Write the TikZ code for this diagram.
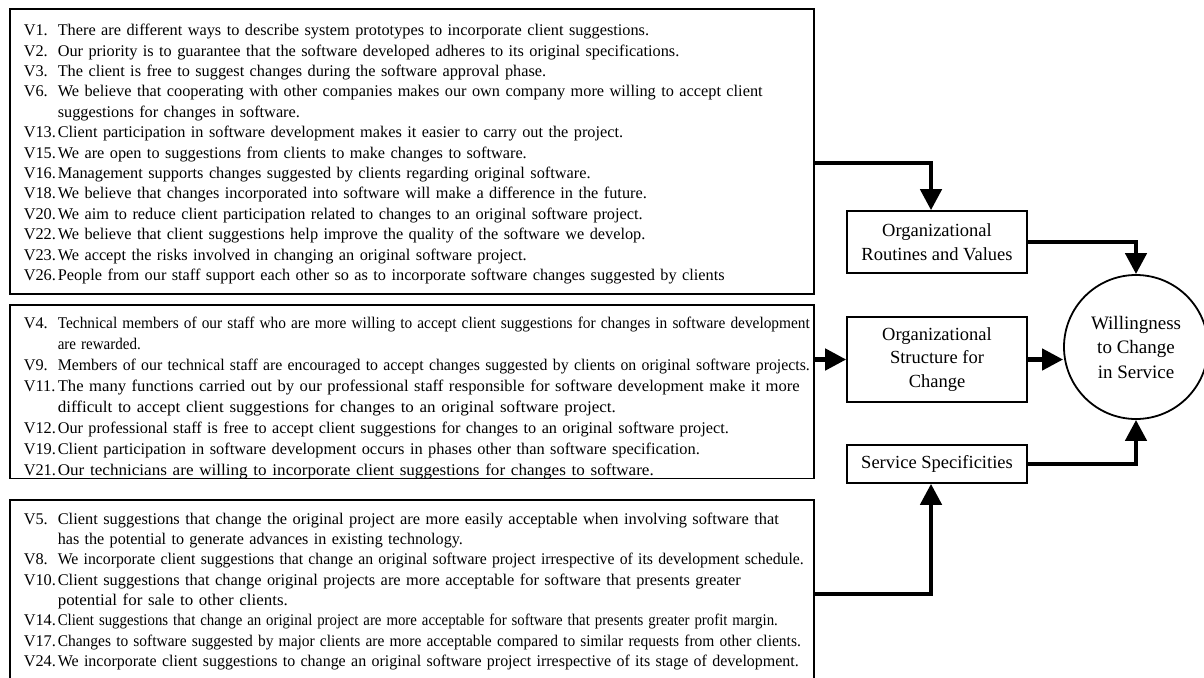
\documentclass[tikz,border=0pt]{standalone}
\usepackage{graphicx}
\usepackage{fontspec}
\setmainfont{Liberation Serif}
\usetikzlibrary{arrows.meta,calc,positioning}
\newlength\qlabw
\setlength\qlabw{34pt}
\newcommand\qlab[1]{\setbox0\hbox{#1}\ifdim\wd0<\qlabw\makebox[\qlabw][l]{#1}\else\box0\fi}
% squeeze a line sideways to a given width
\newcommand\qsqueeze[2]{\setbox2\hbox{#2}\pgfmathsetmacro\qratio{#1/\wd2}\scalebox{\qratio}[1]{\box2}}
\newcommand\qitem[3][]{\mbox{\qlab{#2}\ifx\relax#1\relax#3\else\qsqueeze{#1}{#3}\fi}}
\newcommand\qcont[2][]{\mbox{\hspace*{\qlabw}\ifx\relax#1\relax#2\else\qsqueeze{#1}{#2}\fi}}
\newcommand\qtop[1]{\rule{0pt}{#1}}
\tikzset{
	item box/.style={draw,line width=1.6pt,anchor=north west,align=left,
		inner xsep=14pt,inner ysep=0pt,text width=776pt,minimum width=804pt,
		font=\fontsize{16.3}{#1}\selectfont},
	item box/.default=20.4,
	factor/.style={draw,line width=1.6pt,minimum width=180pt,inner sep=0pt,
		align=center,font=\fontsize{18.5}{23.5}\selectfont},
	outcome/.style={draw,circle,line width=1.8pt,minimum size=144pt,inner sep=0pt,
		align=center,font=\fontsize{19}{24.5}\selectfont},
	flow/.style={line width=4.5pt,-{Triangle[length=21pt,width=21pt]}}
}

\begin{document}
\begin{tikzpicture}[x=1pt,y=-1pt]
	\clip (0,0) rectangle (1204,677);
	\node[item box, minimum height=285pt] (itemsA) at (9,8) {%
		\qtop{17pt}\qitem{V1.}{There are different ways to describe system prototypes to incorporate client suggestions.}\\
		\qitem{V2.}{Our priority is to guarantee that the software developed adheres to its original specifications.}\\
		\qitem{V3.}{The client is free to suggest changes during the software approval phase.}\\
		\qitem{V6.}{We believe that cooperating with other companies makes our own company more willing to accept client}\\
		\qcont{suggestions for changes in software.}\\
		\qitem{V13.}{Client participation in software development makes it easier to carry out the project.}\\
		\qitem{V15.}{We are open to suggestions from clients to make changes to software.}\\
		\qitem{V16.}{Management supports changes suggested by clients regarding original software.}\\
		\qitem{V18.}{We believe that changes incorporated into software will make a difference in the future.}\\
		\qitem{V20.}{We aim to reduce client participation related to changes to an original software project.}\\
		\qitem{V22.}{We believe that client suggestions help improve the quality of the software we develop.}\\
		\qitem{V23.}{We accept the risks involved in changing an original software project.}\\
		\qitem{V26.}{People from our staff support each other so as to incorporate software changes suggested by clients}};
	\node[item box=20.9, minimum height=171pt] (itemsB) at (9,304) {%
		\qtop{24pt}\qitem[752pt]{V4.}{Technical members of our staff who are more willing to accept client suggestions for changes in software development}\\
		\qcont[83pt]{are rewarded.}\\
		\qitem[752pt]{V9.}{Members of our technical staff are encouraged to accept changes suggested by clients on original software projects.}\\
		\qitem[742pt]{V11.}{The many functions carried out by our professional staff responsible for software development make it more}\\
		\qcont[558pt]{difficult to accept client suggestions for changes to an original software project.}\\
		\qitem[671pt]{V12.}{Our professional staff is free to accept client suggestions for changes to an original software project.}\\
		\qitem[642pt]{V19.}{Client participation in software development occurs in phases other than software specification.}\\
		\qitem[596pt]{V21.}{Our technicians are willing to incorporate client suggestions for changes to software.}};
	\node[item box=20.3, minimum height=183pt] (itemsC) at (9,499) {%
		\qitem[721pt]{V5.}{Client suggestions that change the original project are more easily acceptable when involving software that}\\
		\qcont[405pt]{has the potential to generate advances in existing technology.}\\
		\qitem[746pt]{V8.}{We incorporate client suggestions that change an original software project irrespective of its development schedule.}\\
		\qitem[683pt]{V10.}{Client suggestions that change original projects are more acceptable for software that presents greater}\\
		\qcont[230pt]{potential for sale to other clients.}\\
		\qitem[720pt]{V14.}{Client suggestions that change an original project are more acceptable for software that presents greater profit margin.}\\
		\qitem[743pt]{V17.}{Changes to software suggested by major clients are more acceptable compared to similar requests from other clients.}\\
		\qitem[741pt]{V24.}{We incorporate client suggestions to change an original software project irrespective of its stage of development.}};

	\node[factor, minimum height=62pt] (routines) at (937,242) {Organizational\\Routines and Values};
	\node[factor, minimum height=85pt] (structure) at (937,359.5) {Organizational\\Structure for\\Change};
	\node[factor, minimum height=38pt] (specific) at (937,464) {Service Specificities};
	\node[outcome] (will) at (1136,347) {Willingness\\to Change\\in Service};

	\draw[flow] ([yshift=-11.5pt]itemsA.east) -| ([xshift=-6pt]routines.north);
	\draw[flow] (routines.east) -| (will.north);
	\draw[flow] (itemsB.east |- structure.west) -- (structure.west);
	\draw[flow] (structure.east) -- (structure.east -| will.west);
	\draw[flow] (specific.east) -| (will.south);
	\draw[flow] ([yshift=-2.5pt]itemsC.east) -| ([xshift=-6pt]specific.south);
\end{tikzpicture}
\end{document}
